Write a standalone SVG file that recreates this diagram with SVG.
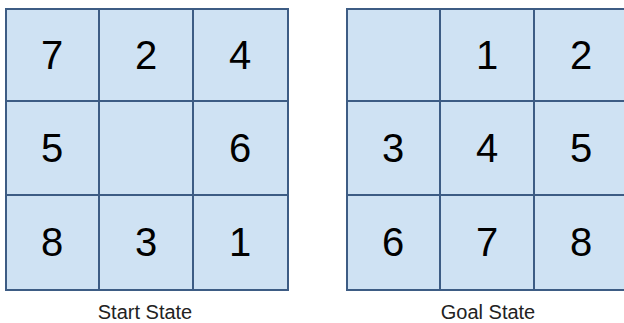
<svg xmlns="http://www.w3.org/2000/svg" width="624" height="323" viewBox="0 0 624 323">
<style>
.cell{fill:#cfe2f3;stroke:#3d5c84;stroke-width:2}
.num{font-family:"Liberation Sans",Arial,sans-serif;font-size:40px;fill:#000;text-anchor:middle;dominant-baseline:central}
.lbl{font-family:"Liberation Sans",Arial,sans-serif;font-size:20px;fill:#222;text-anchor:middle}
</style>
<rect width="624" height="323" fill="#fff"/>
<g id="start">
<rect class="cell" x="6" y="9" width="93" height="92"/>
<rect class="cell" x="99" y="9" width="94" height="92"/>
<rect class="cell" x="193" y="9" width="95" height="92"/>
<rect class="cell" x="6" y="101" width="93" height="94"/>
<rect class="cell" x="99" y="101" width="94" height="94"/>
<rect class="cell" x="193" y="101" width="95" height="94"/>
<rect class="cell" x="6" y="195" width="93" height="95"/>
<rect class="cell" x="99" y="195" width="94" height="95"/>
<rect class="cell" x="193" y="195" width="95" height="95"/>
<text class="num" x="52" y="55">7</text>
<text class="num" x="146" y="55">2</text>
<text class="num" x="240" y="55">4</text>
<text class="num" x="52" y="148">5</text>
<text class="num" x="240" y="148">6</text>
<text class="num" x="52" y="242">8</text>
<text class="num" x="146" y="242">3</text>
<text class="num" x="240" y="242">1</text>
<text class="lbl" x="145" y="319">Start State</text>
</g>
<g id="goal">
<rect class="cell" x="347" y="9" width="93" height="92"/>
<rect class="cell" x="440" y="9" width="94" height="92"/>
<rect class="cell" x="534" y="9" width="95" height="92"/>
<rect class="cell" x="347" y="101" width="93" height="94"/>
<rect class="cell" x="440" y="101" width="94" height="94"/>
<rect class="cell" x="534" y="101" width="95" height="94"/>
<rect class="cell" x="347" y="195" width="93" height="95"/>
<rect class="cell" x="440" y="195" width="94" height="95"/>
<rect class="cell" x="534" y="195" width="95" height="95"/>
<text class="num" x="487" y="55">1</text>
<text class="num" x="581" y="55">2</text>
<text class="num" x="393" y="148">3</text>
<text class="num" x="487" y="148">4</text>
<text class="num" x="581" y="148">5</text>
<text class="num" x="393" y="242">6</text>
<text class="num" x="487" y="242">7</text>
<text class="num" x="581" y="242">8</text>
<text class="lbl" x="488" y="319">Goal State</text>
</g>
<g id="connectors"/>
</svg>
